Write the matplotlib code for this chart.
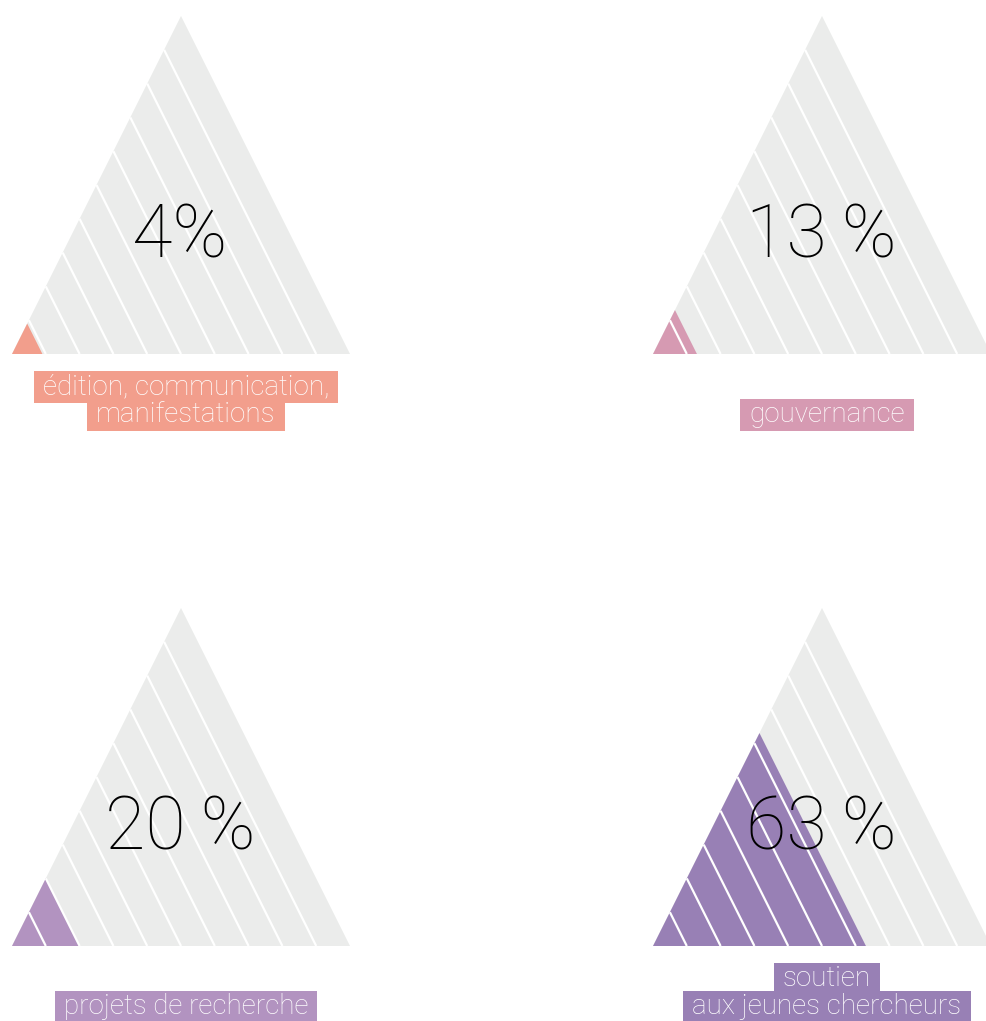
import numpy as np
import matplotlib
matplotlib.use("Agg")
import matplotlib.pyplot as plt
from matplotlib.patches import Polygon, Rectangle

# shares per budget line (labels printed) and the filled share as drawn
categories = [
    ["édition, communication,", "manifestations"],
    ["gouvernance"],
    ["projets de recherche"],
    ["soutien", "aux jeunes chercheurs"],
]
pct_values = [4, 13, 20, 63]
pct_labels = ["4%", "13\u2009%", "20\u2009%", "63\u2009%"]
fill_share = [0.09, 0.13, 0.20, 0.63]  # the 4% wedge is drawn larger in the original
colors = ["#F29E8C", "#D69AB2", "#B293C0", "#9880B5"]

GREY = "#EBECEB"
FONT = ["Roboto", "DejaVu Sans"]

# layout in pixel units: left corner of each triangle base
W, H = 338, 338
N_BANDS = 10
origins = [(12, 354), (653, 354), (12, 946), (653, 946)]
LINE_H = 28
BOX_H = 32
BOX_PADX = 9


def draw_triangle(ax, x0, y0, share, color):
    outer = [(x0, y0), (x0 + W, y0), (x0 + W / 2, y0 - H)]
    ax.add_patch(Polygon(outer, closed=True, fc=GREY, ec="none", zorder=1))

    f = share
    inner = [(x0, y0), (x0 + f * W, y0), (x0 + f * W / 2, y0 - f * H)]
    ax.add_patch(Polygon(inner, closed=True, fc=color, ec="none", zorder=2))

    # white stripes parallel to the right edge
    for k in range(1, N_BANDS):
        xb = x0 + k * W / N_BANDS
        xt = x0 + k * W / (2 * N_BANDS)
        yt = y0 - k * H / N_BANDS
        ax.plot([xb, xt], [y0, yt], color="white", lw=1.6, zorder=3,
                solid_capstyle="butt")


fig = plt.figure(figsize=(9.87, 10.21), dpi=100)
ax = fig.add_axes([0, 0, 1, 1])
ax.set_xlim(0, 987)
ax.set_ylim(1021, 0)
ax.axis("off")

label_texts = []
for i, (x0, y0) in enumerate(origins):
    draw_triangle(ax, x0, y0, fill_share[i], colors[i])
    cx = x0 + W / 2
    ax.text(cx - 1, y0 - 97, pct_labels[i], ha="center", va="baseline",
            fontsize=53, family=FONT, fontweight="light", color="black", zorder=5)

    # label lines, bottom aligned; highlight boxes added after measuring
    lines = categories[i]
    for j, line in enumerate(lines):
        yl = y0 + 61 - (len(lines) - 1 - j) * LINE_H
        t = ax.text(cx + 5, yl + 7, line, ha="center", va="baseline", fontsize=20,
                    family=FONT, fontweight="light", color="white", zorder=5)
        label_texts.append((t, yl, colors[i]))

renderer = fig.canvas.get_renderer()
inv = ax.transData.inverted()
for t, yl, c in label_texts:
    bb = t.get_window_extent(renderer)
    (xa, _), (xb, _) = inv.transform([(bb.x0, bb.y0), (bb.x1, bb.y1)])
    ax.add_patch(Rectangle((xa - BOX_PADX, yl - BOX_H / 2), (xb - xa) + 2 * BOX_PADX,
                           BOX_H, fc=c, ec="none", zorder=4))

fig.savefig("out.png", dpi=100)
